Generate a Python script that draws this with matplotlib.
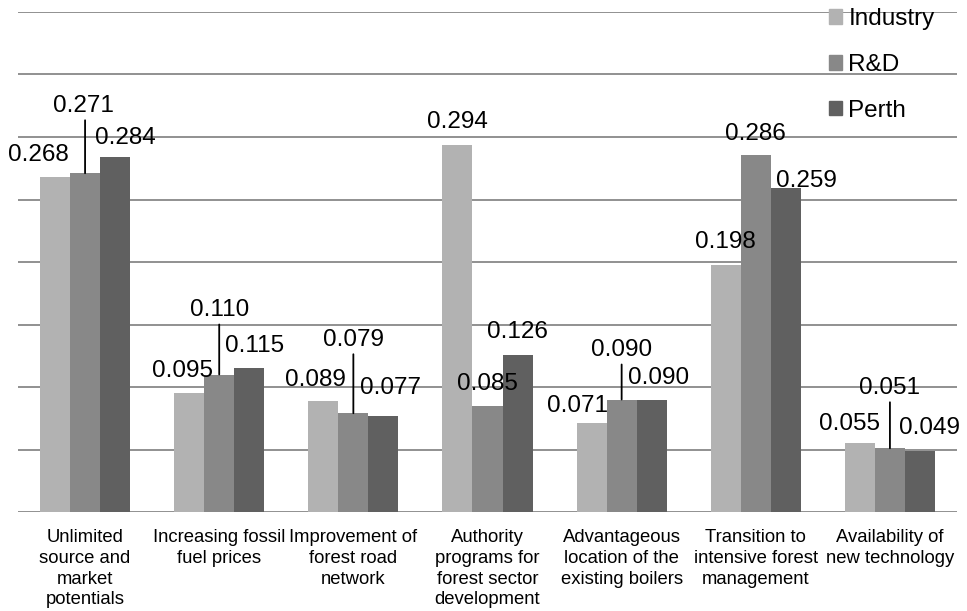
import matplotlib
matplotlib.use("Agg")
import matplotlib.pyplot as plt
from matplotlib.patches import Rectangle
import numpy as np

# --- data ---------------------------------------------------------------
categories = [
    "Unlimited\nsource and\nmarket\npotentials",
    "Increasing fossil\nfuel prices",
    "Improvement of\nforest road\nnetwork",
    "Authority\nprograms for\nforest sector\ndevelopment",
    "Advantageous\nlocation of the\nexisting boilers",
    "Transition to\nintensive forest\nmanagement",
    "Availability of\nnew technology",
]
series_names = ["Industry", "R&D", "Perth"]
industry = [0.268, 0.095, 0.089, 0.294, 0.071, 0.198, 0.055]
rnd = [0.271, 0.110, 0.079, 0.085, 0.090, 0.286, 0.051]
perth = [0.284, 0.115, 0.077, 0.126, 0.090, 0.259, 0.049]

# --- styling ------------------------------------------------------------
colors = ["#b2b2b2", "#888888", "#606060"]
grid_color = "#888888"
font = "Liberation Sans"
plt.rcParams["font.family"] = [font, "DejaVu Sans"]

# label placement: (dx, dy) in pixels from the bar top centre, leader flag
label_offsets = [
    [(-17, 25, False), (-2, 70, True), (10, 22, False)],
    [(-7, 25, False), (0, 67, True), (5, 25, False)],
    [(-8, 24, False), (0, 76, True), (7, 31, False)],
    [(0, 25, False), (0, 25, False), (0, 26, False)],
    [(-14, 20, False), (0, 52, True), (7, 24, False)],
    [(0, 26, False), (0, 24, False), (21, 10, False)],
    [(-10, 22, False), (0, 63, True), (10, 26, False)],
]

W, H = 967, 611
fig = plt.figure(figsize=(W / 100, H / 100), dpi=100)
ax = fig.add_axes([18 / W, 1 - 512 / H, (957 - 18) / W, (512 - 12) / H])

x = np.arange(len(categories))
bw = 0.2237
all_series = [industry, rnd, perth]

ax.set_xlim(-0.5, len(categories) - 0.5)
ax.set_ylim(0, 0.4)
ax.set_yticks(np.arange(0, 0.4001, 0.05))
ax.yaxis.grid(True, color=grid_color, linewidth=1.3)
ax.set_axisbelow(True)
ax.tick_params(axis="y", length=0, labelleft=False)
ax.tick_params(axis="x", length=0, pad=12.5)
for s in ax.spines.values():
    s.set_visible(False)

ax.set_xticks(x)
ax.set_xticklabels(categories, fontsize=13.3, linespacing=1.28, color="black")

for k, (vals, col, name) in enumerate(zip(all_series, colors, series_names)):
    xs = x + (k - 1) * bw
    ax.bar(xs, vals, width=bw, color=col, label=name, zorder=2)
    for i, v in enumerate(vals):
        dx, dy, leader = label_offsets[i][k]
        ax.annotate(f"{v:.3f}", xy=(xs[i], v), xytext=(dx, dy - 9),
                    textcoords="offset pixels", ha="center", va="baseline",
                    fontsize=17.5, color="black", zorder=4)
        if leader:
            ax.annotate("", xy=(xs[i], v), xytext=(0, dy - 17),
                        textcoords="offset pixels",
                        arrowprops=dict(arrowstyle="-", color="black", lw=1.3,
                                        shrinkA=0, shrinkB=0), zorder=3)

handles = [Rectangle((0, 0), 1, 1, color=c) for c in colors]
leg = fig.legend(handles, series_names, loc="upper left",
                 bbox_to_anchor=(829 / W, 1 - 8 / H), frameon=False,
                 fontsize=17.5, handlelength=0.55, handleheight=0.55,
                 handletextpad=0.25, labelspacing=0.98, borderpad=0,
                 borderaxespad=0)

fig.savefig("out.png", dpi=100)
